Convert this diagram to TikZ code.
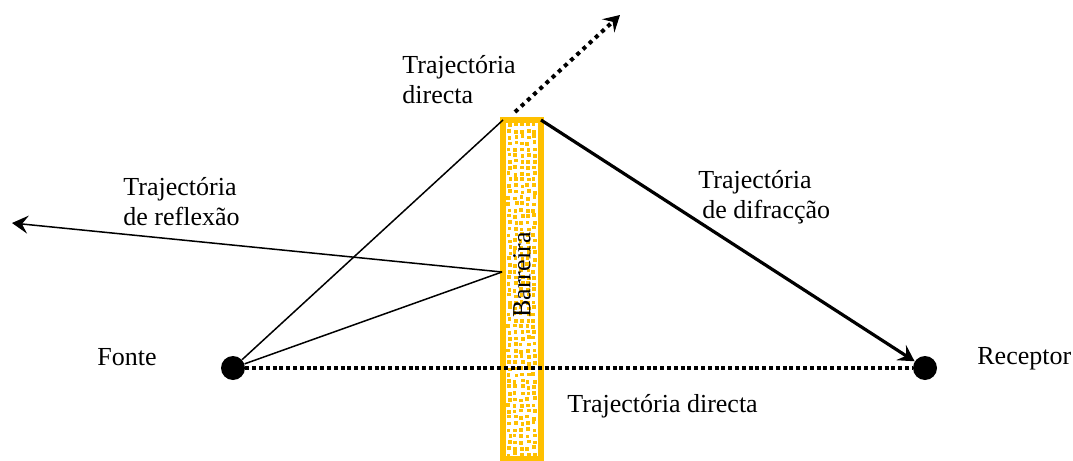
\documentclass[tikz,border=0pt]{standalone}
\usepackage{fontspec}
\setmainfont{Liberation Serif}
\usetikzlibrary{arrows.meta,calc}
\definecolor{ouro}{RGB}{255,192,0}

\begin{document}
\begin{tikzpicture}[x=0.5pt, y=-0.5pt,
    font=\fontsize{13}{15}\selectfont,
    rotulo/.style={anchor=base west, inner sep=0pt, align=left},
    ponto/.style={circle, fill=black, minimum size=12pt, inner sep=0pt},
    fino/.style={line width=0.75pt},
    grosso/.style={line width=1.6pt},
    pontilhado/.style={line width=2pt, dash pattern=on 2pt off 1.4pt},
    seta/.style={-{Stealth[length=8pt, width=9pt, inset=3pt]}}
]
\useasboundingbox (0,0) rectangle (1073,461);

% barreira
\fill[white] (502.5,119.5) rectangle (540.5,458.5);
\pgfmathsetseed{11}
\foreach \row in {0,...,54}
  \foreach \col in {0,...,4} {
    \pgfmathsetmacro\px{507.5+\col*6.2+1.2*rand}
    \pgfmathsetmacro\py{123+\row*6.1+1.2*rand}
    \fill[ouro] (\px,\py) rectangle ++(3.7,3.7);
  }
\draw[ouro, line width=3pt] (502.5,119.5) rectangle (540.5,458.5);
\node[rotate=90, inner sep=0pt] (barreira) at (522,275) {Barreira};

\coordinate (topoE) at (503,120);
\coordinate (topoD) at (541,120);
\coordinate (refl) at (502,272);
\coordinate (reflFim) at (12,223);
\coordinate (dirIni) at (515,112);
\coordinate (dirFim) at (620,15);

\node[ponto] (fonte) at (233,368) {};
\node[ponto] (receptor) at (925,368) {};

\node[rotulo] (lFonte) at (97,365) {Fonte};
\node[rotulo] (lReceptor) at (977,364) {Receptor};
\node[rotulo] (lDirecta) at (567,412) {Trajectória directa};
\node[rotulo] (lTopo) at (402,103) {Trajectória\\directa};
\node[rotulo] (lReflexao) at (123,225) {Trajectória\\de reflexão};
\node[rotulo] (lDifraccao) at (698,218) {Trajectória\\\hspace{2pt}de difracção};

\draw[pontilhado] (fonte) -- (receptor);
\draw[fino] (fonte) -- (topoE);
\draw[fino] (fonte) -- (refl);
\draw[fino, seta] (refl) -- (reflFim);
\draw[grosso, seta] (topoD) -- (receptor);
\draw[pontilhado, dash pattern=on 2pt off 2.2pt, seta] (dirIni) -- (dirFim);
\end{tikzpicture}
\end{document}
